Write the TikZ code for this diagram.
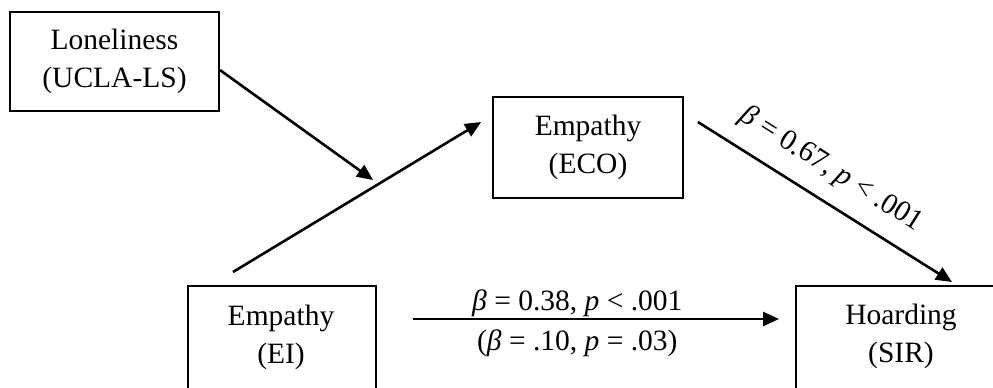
\documentclass[tikz,border=0pt]{standalone}
\usepackage{fontspec}
\setmainfont{Liberation Serif}
\usetikzlibrary{arrows.meta,calc}
\begin{document}
\begin{tikzpicture}[x=1pt,y=-1pt,
  box/.style={draw=black,line width=1.8pt,inner sep=0pt},
  txt/.style={align=center,font=\fontsize{29.5}{38}\selectfont,inner sep=0pt},
  lbl/.style={font=\fontsize{29.5}{34}\selectfont,inner sep=0pt},
  arr/.style={line width=2.6pt,-{Triangle[length=16pt,width=14pt]}}]
\useasboundingbox (0,0) rectangle (993,388);
\clip (0,0) rectangle (993,388);
% boxes
\node[box,txt,minimum width=209pt,minimum height=99pt] (L) at (114.5,61.5) {Loneliness\\(UCLA-LS)};
\node[box,txt,minimum width=190pt,minimum height=101pt] (ECO) at (588,147.5) {Empathy\\(ECO)};
\node[box,minimum width=188pt,minimum height=160pt,anchor=north west] (EI) at (187,285) {};
\node[txt] (EIt) at (281,337) {Empathy\\(EI)};
\node[box,minimum width=260pt,minimum height=160pt,anchor=north west] (SIR) at (795,285) {};
\node[txt] (SIRt) at (901,336) {Hoarding\\(SIR)};
% connector ends
\coordinate (a1) at ($(EI.north west)+(46,-13)$);
\coordinate (a2) at ($(ECO.west)+(-11,-25.5)$);
\coordinate (m) at (373,180);
\coordinate (b1) at ($(ECO.east)+(14,-25.5)$);
\coordinate (b2) at ($(SIR.north west)+(157,-3)$);
\coordinate (c1) at (413,319);
\coordinate (c2) at (779,319);
% connectors
\draw[arr] (L.east |- 0,70) -- (m);
\draw[arr] (a1) -- (a2);
\draw[arr] (b1) -- node[lbl,pos=0.46,sloped,above=16pt]{\textit{β} = 0.67, \textit{p} < .001} (b2);
\draw[arr] (c1) -- node[lbl,pos=0.449,anchor=base,yshift=9pt]{\textit{β} = 0.38, \textit{p} < .001}
                   node[lbl,pos=0.449,anchor=base,yshift=-31pt]{(\textit{β} = .10, \textit{p} = .03)} (c2);
\end{tikzpicture}
\end{document}
